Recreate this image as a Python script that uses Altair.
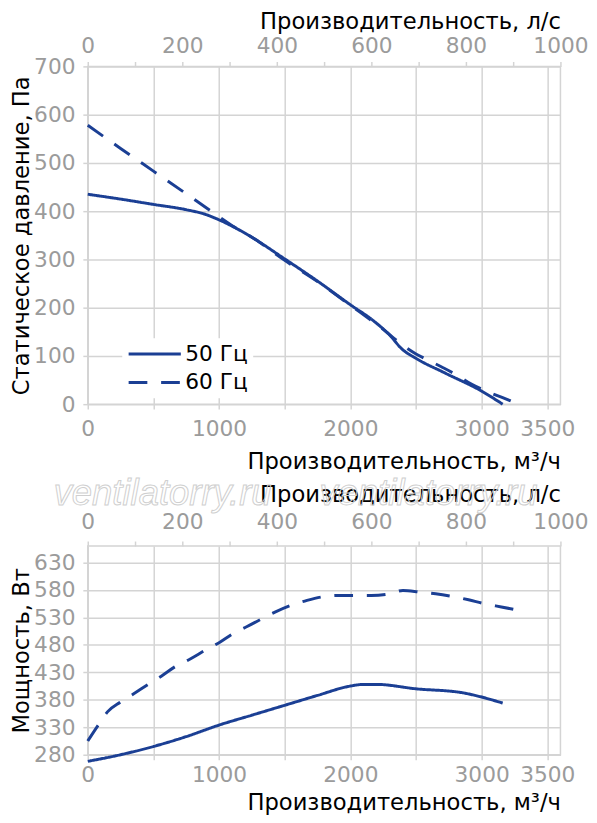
import altair as alt
import pandas as pd

# ---- data ----
freqs = ["50 Гц", "60 Гц"]

# static pressure, Pa vs flow, m3/h
q50_p = [0, 250, 500, 750, 900, 1000, 1200, 1500, 1750, 2000, 2175, 2300, 2390, 2500, 2725, 3000, 3160]
p50 = [435, 425, 414, 403, 393, 382, 354, 301, 255, 206, 173, 143, 115, 95, 64, 27, 0]
q60_p = [0, 250, 500, 750, 960, 1100, 1250, 1500, 1750, 2000, 2250, 2400, 2500, 2600, 2710, 2825, 2925, 3045, 3155, 3281]
p60 = [578, 530, 483, 436, 396, 370, 346, 298, 254, 205, 155, 122, 104, 90, 75, 58, 41, 26, 14, 0]

# power, W vs flow, m3/h
q50_w = [0, 250, 500, 750, 1000, 1250, 1500, 1750, 2000, 2100, 2200, 2500, 2850, 3000, 3160]
w50 = [268, 280, 295, 313, 334, 352, 370, 388, 405, 408, 408, 400, 393, 385, 374]
q60_w = [0, 80, 150, 250, 350, 460, 560, 670, 770, 900, 1000, 1110, 1210, 1330, 1430, 1550, 1670,
         1800, 1900, 2050, 2160, 2300, 2400, 2530, 2650, 2780, 2900, 3020, 3150, 3280]
w60 = [305, 334, 358, 376, 391, 408, 423, 441, 453, 471, 484, 501, 513, 528, 540, 552, 561,
       568, 570, 570, 570, 573, 579, 576, 573, 568, 562, 555, 549, 543]

# axes
q_ticks = [0, 500, 1000, 1500, 2000, 2500, 3000, 3500]
ls_ticks = [0, 100, 200, 300, 400, 500, 600, 700, 800, 900, 1000]
p_ticks = [0, 100, 200, 300, 400, 500, 600, 700]
w_ticks = [280, 330, 380, 430, 480, 530, 580, 630]
watermark = ["ventilatorry.ru", "ventilatorry.ru"]

BLUE = "#1b3f94"
GRID = "#d4d4d4"
LAB = "#9b9b9b"
FONT = "DejaVu Sans"
FS = 22
TFS = 23

def long(qa, va, f):
    return pd.DataFrame({"q": qa, "v": va, "f": f})

dfp = pd.concat([long(q50_p, p50, freqs[0]), long(q60_p, p60, freqs[1])])
dfw = pd.concat([long(q50_w, w50, freqs[0]), long(q60_w, w60, freqs[1])])
dfls = pd.DataFrame({"ls": [ls_ticks[0], ls_ticks[-1]]})

W = 480

def x_bottom(lp, tp):
    return alt.X(
        "q:Q",
        scale=alt.Scale(domain=[0, 3600], nice=False, zero=False),
        axis=alt.Axis(
            orient="bottom", values=q_ticks, title="Производительность, м³/ч",
            labelExpr="(datum.value % 1000 == 0 || datum.value == 3500) ? datum.label : ''",
            format="d", labelPadding=lp, titlePadding=tp,
        ),
    )

def secondary(lp, tp):
    return alt.Chart(dfls).mark_point(opacity=0).encode(
        x=alt.X(
            "ls:Q",
            scale=alt.Scale(domain=[0, 1000], nice=False, zero=False),
            axis=alt.Axis(
                orient="top", values=ls_ticks, grid=False, title="Производительность, л/с",
                labelExpr="datum.value % 200 == 0 ? datum.label : ''", format="d",
                labelPadding=lp, titlePadding=tp,
            ),
        )
    )

dash = alt.StrokeDash(
    "f:N",
    scale=alt.Scale(domain=freqs, range=[[1, 0], [19, 14]]),
    legend=alt.Legend(
        title=None, orient="none", legendX=35, legendY=276,
        fillColor="white", padding=5, symbolType="stroke", symbolSize=2809,
        symbolStrokeWidth=3, symbolStrokeColor=BLUE, labelFontSize=FS,
        labelColor="black", labelFont=FONT, clipHeight=22, rowPadding=7, labelOffset=3,
    ),
)

lines_p = alt.Chart(dfp).mark_line(color=BLUE, strokeWidth=3, interpolate="monotone").encode(
    x=x_bottom(10, 11),
    y=alt.Y("v:Q", scale=alt.Scale(domain=[0, 700], nice=False),
            axis=alt.Axis(values=p_ticks, title="Статическое давление, Па")),
    strokeDash=dash,
)

top = alt.layer(lines_p, secondary(4, 1)).resolve_scale(x="independent").properties(width=W, height=343)

lines_w = alt.Chart(dfw).mark_line(color=BLUE, strokeWidth=3, interpolate="monotone").encode(
    x=x_bottom(5, 7),
    y=alt.Y("v:Q", scale=alt.Scale(domain=[280, 660], nice=False, zero=False),
            axis=alt.Axis(values=w_ticks, title="Мощность, Вт")),
    strokeDash=alt.StrokeDash("f:N", scale=alt.Scale(domain=freqs, range=[[1, 0], [19, 14]]), legend=None),
)

wm = alt.Chart(pd.DataFrame({"t": watermark, "k": [0, 1]})).mark_text(
    font="Liberation Sans", fontSize=37, fontStyle="italic", fill="white", fillOpacity=0,
    stroke="#cfcfcf", strokeWidth=1, align="center", baseline="middle",
).encode(
    text="t:N",
    x=alt.X("k:O", axis=None, scale=alt.Scale(range=[76, 346], padding=0)),
    y=alt.value(-53),
)

bottom = alt.layer(lines_w, secondary(8, 4), wm).resolve_scale(x="independent").properties(width=W, height=212)

chart = alt.vconcat(top, bottom, spacing=0).properties(
    padding={"left": 2, "top": -4, "right": 0, "bottom": 0}
).configure(
    font=FONT
).configure_view(stroke=GRID, strokeWidth=1.5).configure_axis(
    gridColor=GRID, gridWidth=1.5, tickColor=GRID, tickWidth=1.5, tickSize=5, domain=False,
    labelColor=LAB, labelFontSize=FS, labelFont=FONT,
    titleColor="black", titleFontSize=TFS, titleFont=FONT, titleFontWeight="normal",
    labelOverlap=False,
).configure_axisX(titleAnchor="end", labelFlush=False).configure_axisY(
    titleAnchor="middle", labelPadding=8, titlePadding=0
)

chart.save("out.html", embed_options={"renderer": "svg", "actions": False})
